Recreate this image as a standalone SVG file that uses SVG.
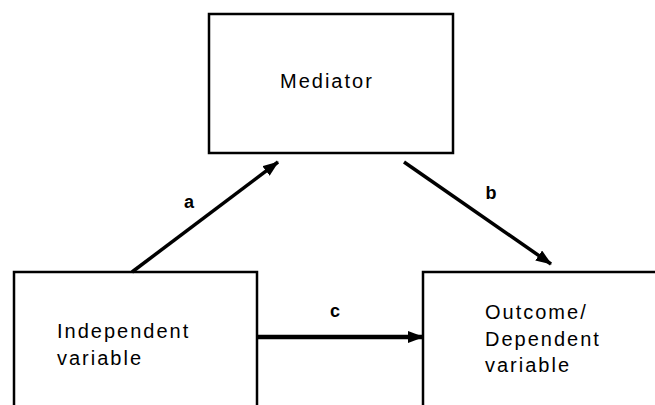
<svg xmlns="http://www.w3.org/2000/svg" width="655" height="405" viewBox="0 0 655 405">
<style>
.box{fill:#fff;stroke:#000;stroke-width:2.5}
.t{font-family:"Liberation Sans",Arial,sans-serif;font-size:20px;letter-spacing:2px;fill:#000}
.lbl{font-family:"Liberation Sans",Arial,sans-serif;font-size:18px;font-weight:bold;fill:#000;text-anchor:middle}
.arr{stroke:#000;fill:none}
</style>
<defs>
<marker id="ah" markerUnits="userSpaceOnUse" markerWidth="16" markerHeight="12" refX="15" refY="6" orient="auto" viewBox="0 0 16 12">
<path d="M0,0 L16,6 L0,12 Z" fill="#000"/>
</marker>
</defs>
<g id="mediator">
<rect class="box" x="209" y="14" width="244" height="139"/>
<text class="t" x="280" y="88">Mediator</text>
</g>
<g id="independent">
<rect class="box" x="14" y="272" width="243" height="145"/>
<text class="t" x="57" y="338">Independent</text>
<text class="t" x="57" y="365">variable</text>
</g>
<g id="outcome">
<rect class="box" x="423" y="272" width="250" height="145"/>
<text class="t" x="485" y="319">Outcome/</text>
<text class="t" x="485" y="346">Dependent</text>
<text class="t" x="485" y="372">variable</text>
</g>
<g id="connectors">
<line class="arr" x1="132" y1="272" x2="278" y2="162" stroke-width="3.5" marker-end="url(#ah)"/>
<line class="arr" x1="404" y1="162" x2="551" y2="264" stroke-width="3.5" marker-end="url(#ah)"/>
<line class="arr" x1="257" y1="337" x2="423" y2="337" stroke-width="4.5" marker-end="url(#ah)"/>
<text class="lbl" x="189" y="208">a</text>
<text class="lbl" x="491" y="199">b</text>
<text class="lbl" x="335" y="317">c</text>
</g>
</svg>
